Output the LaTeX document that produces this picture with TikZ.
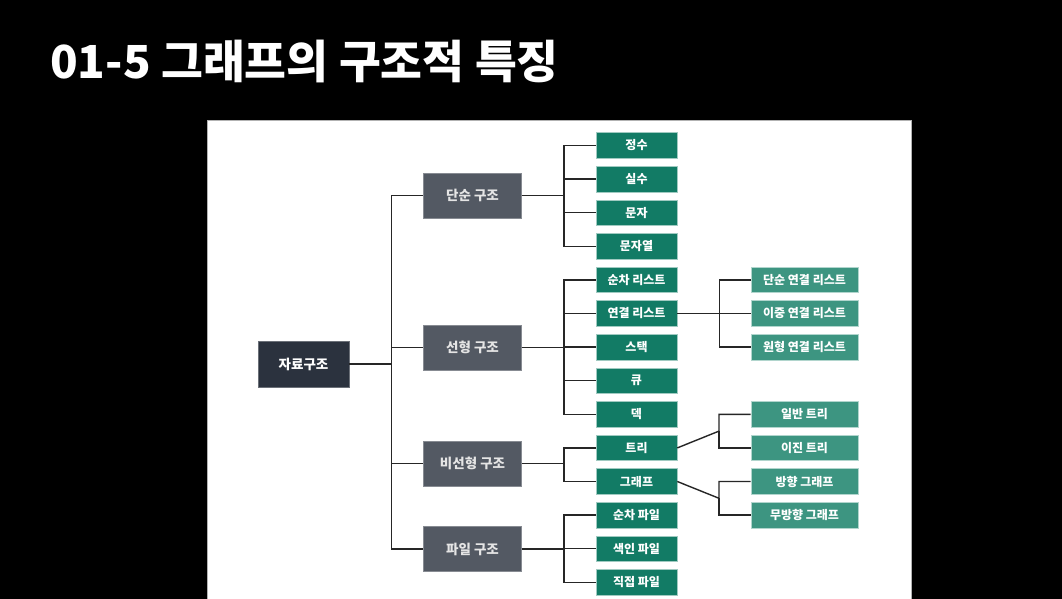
\documentclass[tikz,border=0pt]{standalone}
\usepackage{fontspec}
\setmainfont{Noto Sans CJK KR}
\definecolor{rootnavy}{HTML}{2B323E}
\definecolor{groupgray}{HTML}{535963}
\definecolor{leafgreen}{HTML}{127B65}
\definecolor{subgreen}{HTML}{3D9581}
\begin{document}
\begin{tikzpicture}[
		x=1pt,
		y=-1pt,
		every node/.style={
				inner sep=0pt,
				align=center,
				text=white
			},
		rootbox/.style={
				fill=rootnavy,
				draw=rootnavy!70!white,
				line width=0.6pt,
				minimum width=91pt,
				minimum height=46pt,
				font=\fontsize{13.5}{15}\selectfont\bfseries
			},
		groupbox/.style={
				fill=groupgray,
				draw=groupgray!70!white,
				line width=0.6pt,
				minimum width=98pt,
				minimum height=45pt,
				text=white!90!black,
				font=\fontsize{13.5}{15}\selectfont\bfseries
			},
		leafbox/.style={
				fill=leafgreen,
				draw=leafgreen!40!white,
				line width=0.6pt,
				minimum width=81pt,
				minimum height=25.5pt,
				font=\fontsize{12}{13}\selectfont\bfseries
			},
		subbox/.style={
				fill=subgreen,
				draw=subgreen!40!white,
				line width=0.6pt,
				minimum width=107pt,
				minimum height=25.5pt,
				font=\fontsize{12}{13}\selectfont\bfseries
			},
		link/.style={
				draw=black!85,
				line width=1.4pt
			}
	]
	\useasboundingbox (0,0) rectangle (1062,599);
	\fill[black] (0,0) rectangle (1062,599);
	\filldraw[fill=white, draw=black!30, line width=0.8pt] (207,120) rectangle (911,610);

	\node[anchor=base west, font=\fontsize{45.5}{50}\selectfont\bfseries] (title) at (50,79) {01-5 그래프의 구조적 특징};

	\node[rootbox] (root) at (303.5,364) {자료구조};

	\node[groupbox] (simple) at (472.5,195.5) {단순 구조};
	\node[groupbox] (linear) at (472.5,347.5) {선형 구조};
	\node[groupbox] (nonlinear) at (472.5,463.5) {비선형 구조};
	\node[groupbox] (filegroup) at (472.5,549) {파일 구조};

	\node[leafbox] (integer) at (636.5,145.5) {정수};
	\node[leafbox] (real) at (636.5,179.1) {실수};
	\node[leafbox] (char) at (636.5,212.7) {문자};
	\node[leafbox] (string) at (636.5,246.3) {문자열};
	\node[leafbox] (seqlist) at (636.5,279.9) {순차 리스트};
	\node[leafbox] (linkedlist) at (636.5,313.5) {연결 리스트};
	\node[leafbox] (stack) at (636.5,347.1) {스택};
	\node[leafbox] (queue) at (636.5,380.7) {큐};
	\node[leafbox] (deque) at (636.5,414.3) {덱};
	\node[leafbox] (tree) at (636.5,447.9) {트리};
	\node[leafbox] (graph) at (636.5,481.5) {그래프};
	\node[leafbox] (seqfile) at (636.5,515.1) {순차 파일};
	\node[leafbox] (indexfile) at (636.5,548.7) {색인 파일};
	\node[leafbox] (directfile) at (636.5,582.3) {직접 파일};

	\node[subbox] (singlelist) at (804.5,279.9) {단순 연결 리스트};
	\node[subbox] (doublelist) at (804.5,313.5) {이중 연결 리스트};
	\node[subbox] (circlist) at (804.5,347.1) {원형 연결 리스트};
	\node[subbox] (gentree) at (804.5,414.3) {일반 트리};
	\node[subbox] (bintree) at (804.5,447.9) {이진 트리};
	\node[subbox] (digraph) at (804.5,481.5) {방향 그래프};
	\node[subbox] (undigraph) at (804.5,515.1) {무방향 그래프};

	\coordinate (treefork) at (719,431.1);
	\coordinate (graphfork) at (719,498.3);

	\draw[link] (root.east) -- ++(42,0) |- (simple.west);
	\draw[link] (root.east) -- ++(42,0) |- (linear.west);
	\draw[link] (root.east) -- ++(42,0) |- (nonlinear.west);
	\draw[link] (root.east) -- ++(42,0) |- (filegroup.west);

	\draw[link] (simple.east) -- ++(42,0) |- (integer.west);
	\draw[link] (simple.east) -- ++(42,0) |- (real.west);
	\draw[link] (simple.east) -- ++(42,0) |- (char.west);
	\draw[link] (simple.east) -- ++(42,0) |- (string.west);

	\draw[link] (linear.east) -- ++(42,0) |- (seqlist.west);
	\draw[link] (linear.east) -- ++(42,0) |- (linkedlist.west);
	\draw[link] (linear.east) -- ++(42,0) |- (stack.west);
	\draw[link] (linear.east) -- ++(42,0) |- (queue.west);
	\draw[link] (linear.east) -- ++(42,0) |- (deque.west);

	\draw[link] (nonlinear.east) -- ++(42,0) |- (tree.west);
	\draw[link] (nonlinear.east) -- ++(42,0) |- (graph.west);

	\draw[link] (filegroup.east) -- ++(42,0) |- (seqfile.west);
	\draw[link] (filegroup.east) -- ++(42,0) |- (indexfile.west);
	\draw[link] (filegroup.east) -- ++(42,0) |- (directfile.west);

	\draw[link] (linkedlist.east) -- ++(42,0) |- (singlelist.west);
	\draw[link] (linkedlist.east) -- ++(42,0) |- (doublelist.west);
	\draw[link] (linkedlist.east) -- ++(42,0) |- (circlist.west);

	\draw[link] (tree.east) -- (treefork) |- (gentree.west);
	\draw[link] (treefork) |- (bintree.west);
	\draw[link] (graph.east) -- (graphfork) |- (digraph.west);
	\draw[link] (graphfork) |- (undigraph.west);
\end{tikzpicture}
\end{document}
